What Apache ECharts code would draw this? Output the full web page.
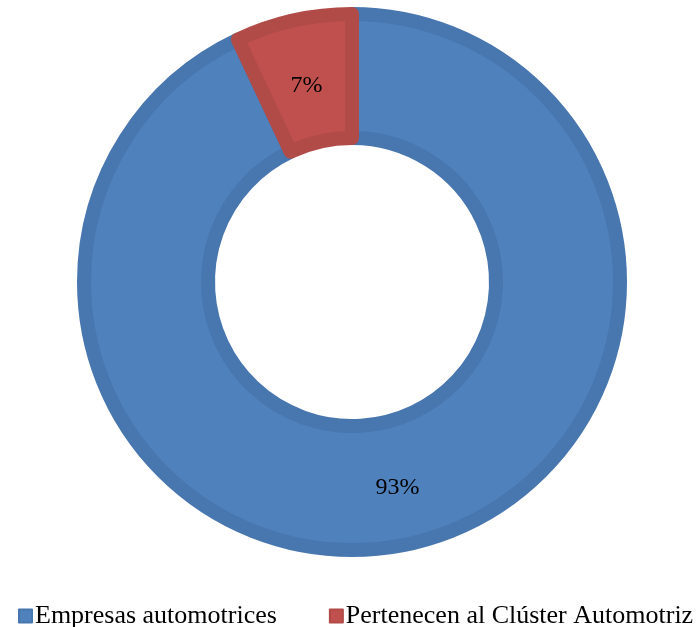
<!DOCTYPE html>
<html>
<head>
<meta charset="utf-8">
<script src="https://cdn.jsdelivr.net/npm/echarts@6/dist/echarts.min.js"></script>
<style>
  html, body { margin: 0; padding: 0; background: #fff; }
  #chart { width: 700px; height: 627px; }
</style>
</head>
<body>
<div id="chart"></div>
<script>
// datos del gráfico
const categories = ['Empresas automotrices', 'Pertenecen al Clúster Automotriz'];
const values = [93, 7];
const fills = ['#4F81BD', '#C0504D'];
const borders = ['#4876AE', '#B04B48'];
// ajuste vertical de la etiqueta (línea vacía antes del texto)
const labelFormats = ['\n{d}%', '\n{d}%'];
const labelLineHeights = [4, 16];

let chart = echarts.init(document.getElementById('chart'));

let option = {
    animation: false,
    legend: {
        left: 13,
        top: 598,
        itemWidth: 13,
        itemHeight: 13,
        itemGap: 52,
        icon: 'rect',
        textStyle: {
            fontFamily: 'Liberation Serif',
            fontSize: 26,
            color: '#000',
            padding: [0, 0, 0, -2]
        },
        data: categories
    },
    series: [{
        type: 'pie',
        center: [352, 282],
        radius: [144, 268],
        startAngle: 90,
        clockwise: true,
        label: {
            position: 'inside',
            fontFamily: 'Liberation Serif',
            fontSize: 24,
            color: '#000'
        },
        labelLine: {show: false},
        data: categories.map((name, i) => ({
            name: name,
            value: values[i],
            label: {formatter: labelFormats[i], lineHeight: labelLineHeights[i]},
            itemStyle: {
                color: fills[i],
                borderColor: borders[i],
                borderWidth: 14
            }
        }))
    }]
};

chart.setOption(option);
</script>
</body>
</html>
